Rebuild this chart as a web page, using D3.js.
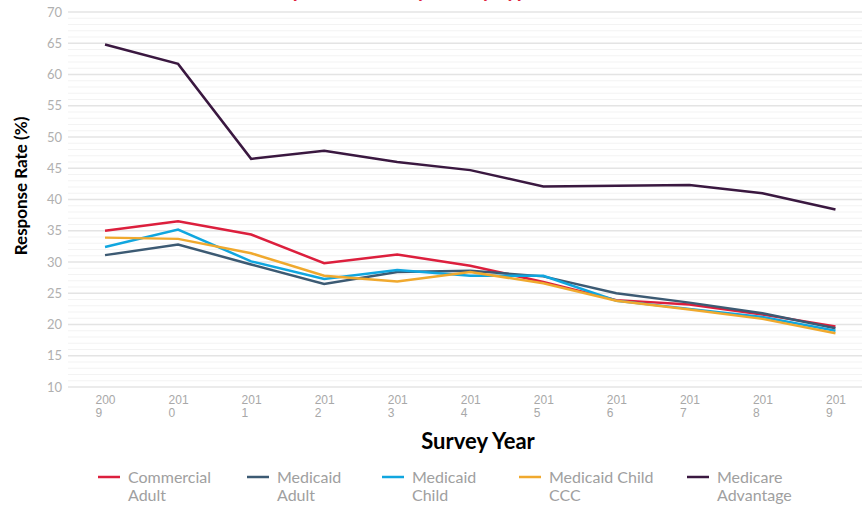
<!DOCTYPE html>
<html>
<head>
<meta charset="utf-8">
<script src="https://cdn.jsdelivr.net/npm/d3@7"></script>
<style>
  body { margin: 0; background: #fff; }
  svg { display: block; font-family: Lato, 'Noto Sans', sans-serif; }
</style>
</head>
<body>
<div id="chart"></div>
<script>
// data
var years = ['2009', '2010', '2011', '2012', '2013', '2014', '2015', '2016', '2017', '2018', '2019'];
var seriesNames = ['Commercial Adult', 'Medicaid Adult', 'Medicaid Child', 'Medicaid Child CCC', 'Medicare Advantage'];
var legendLines = [['Commercial', 'Adult'], ['Medicaid', 'Adult'], ['Medicaid', 'Child'], ['Medicaid Child', 'CCC'], ['Medicare', 'Advantage']];
var commercialAdult = [35.0, 36.5, 34.4, 29.8, 31.2, 29.4, 26.8, 23.9, 23.2, 21.6, 19.7];
var medicaidAdult = [31.1, 32.8, 29.6, 26.5, 28.4, 28.6, 27.7, 25.0, 23.5, 21.8, 19.4];
var medicaidChild = [32.4, 35.2, 30.1, 27.3, 28.7, 27.8, 27.8, 23.8, 22.5, 21.2, 19.0];
var medicaidChildCCC = [33.9, 33.7, 31.4, 27.8, 26.9, 28.4, 26.6, 23.8, 22.4, 20.9, 18.6];
var medicareAdvantage = [64.8, 61.7, 46.5, 47.8, 46.0, 44.7, 42.1, 42.2, 42.3, 41.0, 38.4];
var yTicks = [10, 15, 20, 25, 30, 35, 40, 45, 50, 55, 60, 65, 70];

var allSeries = [commercialAdult, medicaidAdult, medicaidChild, medicaidChildCCC, medicareAdvantage];
var colors = ['#dc1f3d', '#3c5a73', '#10a6df', '#f0a92e', '#3a1840'];

// setup SVG
var width = 862, height = 506;
var svg = d3.select('#chart').append('svg')
    .attr('width', width).attr('height', height);

var x = d3.scalePoint().domain(years).range([68.5, 872]).padding(0.5);
var y = d3.scaleLinear().domain([10, 70]).range([387, 12]);

// title (sits mostly above the visible area, like the original)
svg.append('text')
    .attr('x', 400).attr('y', -3)
    .attr('text-anchor', 'middle')
    .attr('fill', '#e0203d')
    .attr('font-size', '20px').attr('font-weight', 'bold')
    .text('Response Rates by Survey Type');

// grid lines, minor every 1, major every 5
var gridVals = d3.range(10, 71, 1);
svg.append('g').selectAll('line')
    .data(gridVals).enter().append('line')
    .attr('x1', 68).attr('x2', width)
    .attr('y1', function(d) { return y(d); })
    .attr('y2', function(d) { return y(d); })
    .attr('stroke', function(d) { return d % 5 == 0 ? '#e4e4e4' : '#f3f3f3'; })
    .attr('stroke-width', function(d) { return d % 5 == 0 ? 1.5 : 1; });

// y axis labels
var yAxis = svg.append('g')
    .attr('transform', 'translate(68,0)')
    .call(d3.axisLeft(y).tickValues(yTicks).tickSize(0).tickPadding(6));
yAxis.select('.domain').remove();
yAxis.selectAll('text')
    .attr('fill', '#b0b0b0')
    .attr('font-size', '13px')
    .attr('font-family', 'Lato, sans-serif');

// x axis labels, wrapped after 3 chars
var xAxis = svg.append('g')
    .attr('transform', 'translate(0,387)')
    .call(d3.axisBottom(x).tickSize(0).tickFormat(''));
xAxis.select('.domain').remove();
xAxis.selectAll('.tick').append('text')
    .attr('fill', '#a8a8a8')
    .attr('font-size', '12px')
    .attr('text-anchor', 'start')
    .each(function(d) {
        var t = d3.select(this);
        t.append('tspan').attr('x', -10).attr('y', 17).text(d.slice(0, 3));
        t.append('tspan').attr('x', -10).attr('y', 30).text(d.slice(3));
    });

// axis titles
svg.append('text')
    .attr('x', 478).attr('y', 449)
    .attr('text-anchor', 'middle')
    .attr('font-size', '22px').attr('font-weight', 'bold')
    .attr('fill', '#000')
    .text('Survey Year');

svg.append('text')
    .attr('transform', 'translate(27,186) rotate(-90)')
    .attr('text-anchor', 'middle')
    .attr('font-size', '17px').attr('font-weight', 'bold')
    .attr('fill', '#000')
    .text('Response Rate (%)');

// lines
var line = d3.line()
    .x(function(d, i) { return x(years[i]); })
    .y(function(d) { return y(d); });

svg.append('g').selectAll('path')
    .data(allSeries).enter().append('path')
    .attr('d', line)
    .attr('fill', 'none')
    .attr('stroke', function(d, i) { return colors[i]; })
    .attr('stroke-width', 2.5)
    .attr('stroke-linejoin', 'miter');

// legend
var legendX = [98, 247, 382, 519, 687];
var legend = svg.append('g').selectAll('g')
    .data(seriesNames).enter().append('g')
    .attr('transform', function(d, i) { return 'translate(' + legendX[i] + ',477)'; });

legend.append('line')
    .attr('x1', 0).attr('x2', 22).attr('y1', 0).attr('y2', 0)
    .attr('stroke', function(d, i) { return colors[i]; })
    .attr('stroke-width', 2.5);

legend.append('text')
    .attr('fill', '#a0a0a0')
    .attr('font-size', '16px')
    .each(function(d, i) {
        var t = d3.select(this);
        legendLines[i].forEach(function(s, j) {
            t.append('tspan').attr('x', 30).attr('y', 6 + j * 18).text(s);
        });
    });
</script>
</body>
</html>
